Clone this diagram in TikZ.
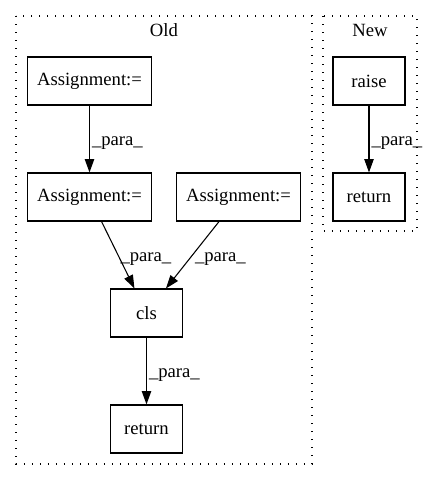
\documentclass[tikz,border=0pt]{standalone}
\usepackage{fontspec}
\setmainfont{Liberation Serif}
\usetikzlibrary{arrows.meta}
\begin{document}
\begin{tikzpicture}[x=0.75pt,y=-0.75pt,>={Triangle[length=10pt,width=7pt]},
        font=\fontsize{14}{16}\selectfont, line width=0.8pt,
        box/.style={draw,minimum width=54pt,minimum height=36pt,inner xsep=7.5pt},
        para/.style={midway,anchor=west,inner sep=1.5pt,yshift=-3pt},
        cluster/.style={line width=1pt,dash pattern=on 1pt off 5pt}]
    \useasboundingbox (0,0) rectangle (433,480);
    % clusters
    \draw[cluster] (16,16) rectangle (312,464);
    \draw[cluster] (323,16) rectangle (417,231);
    \node (old) at (164,30) {Old};
    \node (new) at (370,30) {New};
    % old
    \node[box] (asgA) at (89.5,81) {Assignment:=};
    \node[box] (asgB) at (89.5,197) {Assignment:=};
    \node[box] (asgC) at (238.5,197) {Assignment:=};
    \node[box] (cls) at (146.5,313) {cls};
    \node[box] (retOld) at (146.5,429) {return};
    \draw[->] (asgA) -- (asgB) node[para] {\_para\_};
    \draw[->] (asgB) -- (cls) node[para] {\_para\_};
    \draw[->] (asgC) -- (cls) node[para] {\_para\_};
    \draw[->] (cls) -- (retOld) node[para] {\_para\_};
    % new
    \node[box] (raise) at (369,81) {raise};
    \node[box] (retNew) at (369,197) {return};
    \draw[->] (raise) -- (retNew) node[para] {\_para\_};
\end{tikzpicture}
\end{document}
